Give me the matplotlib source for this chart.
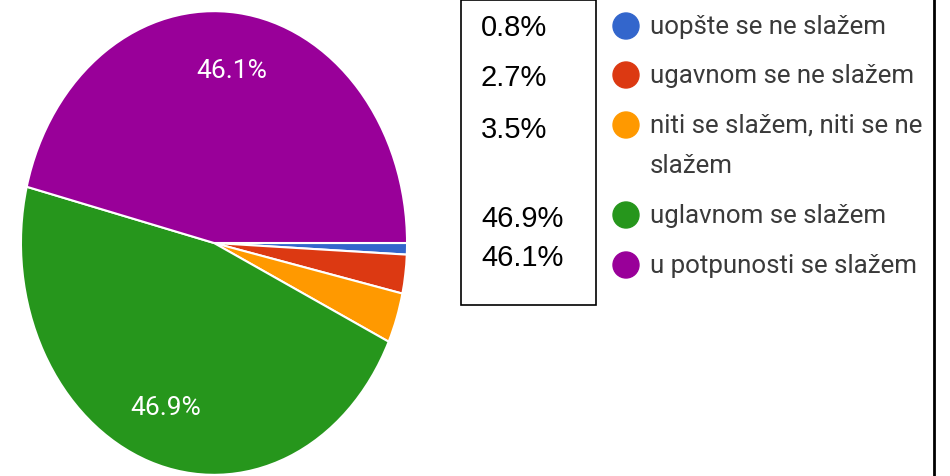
import matplotlib.pyplot as plt
from matplotlib.patches import Rectangle, Circle

labels = ['uopšte se ne slažem', 'ugavnom se ne slažem',
          'niti se slažem, niti se ne\nslažem', 'uglavnom se slažem',
          'u potpunosti se slažem']
values = [0.8, 2.7, 3.5, 46.9, 46.1]
colors = ['#3366cc', '#dc3912', '#ff9900', '#26961c', '#990099']
box_text = ['0.8%', '2.7%', '3.5%', '46.9%', '46.1%']

fig = plt.figure(figsize=(9.5, 4.77), dpi=100)
W, H = 950, 477

# pie is squashed into an ellipse, so no equal aspect
ax = fig.add_axes([20/W, 0, 388/W, 466/H])
ax.pie(values, colors=colors, startangle=0, counterclock=False,
       autopct=lambda p: f'{p:.1f}%' if p > 5 else '', pctdistance=0.75,
       wedgeprops=dict(edgecolor='white', linewidth=1.5),
       textprops=dict(color='white', fontsize=19, family='Roboto'))
ax.set_xlim(-1.005, 1.005)
ax.set_ylim(-1.005, 1.005)
ax.set_aspect('auto')
ax.axis('off')

# overlay in pixel coords (y from top)
ov = fig.add_axes([0, 0, 1, 1])
ov.set_xlim(0, W)
ov.set_ylim(H, 0)
ov.axis('off')

ov.add_patch(Rectangle((461, 1), 135, 305, fill=False, edgecolor='black', lw=1.2))
box_y = [28, 78, 130, 219, 258]
for t, y in zip(box_text, box_y):
    ov.text(481, y, t, fontsize=21, family='Liberation Sans', va='center', ha='left')

leg_y = [27, 76, 126, 216, 266]
for lab, c, y in zip(labels, colors, leg_y):
    ov.add_patch(Circle((626, y), 13, color=c))
    for i, ln in enumerate(lab.split('\n')):
        ov.text(650, y + i * 40, ln, fontsize=18.6, family='Roboto',
                color='#3a3a3a', va='center', ha='left')

ov.plot([934, 934], [0, H], color='black', lw=2)

fig.savefig('out.png', dpi=100)
